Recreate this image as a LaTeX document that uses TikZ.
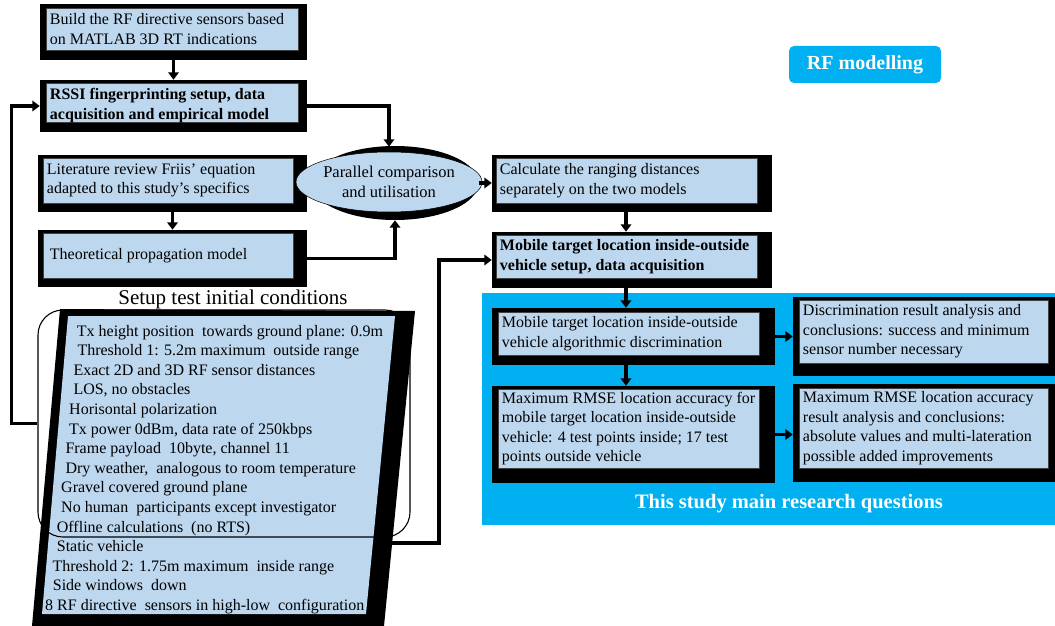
\documentclass[tikz,border=0pt]{standalone}
\usepackage{fontspec}
\setmainfont{Liberation Serif}
\usetikzlibrary{arrows.meta,fit,calc,shapes.geometric}
\definecolor{boxblue}{HTML}{BDD7EE}
\definecolor{skyband}{HTML}{00B0F0}

\tikzset{
  shade/.style={fill=black, inner sep=0pt},
  panel/.style={fill=boxblue, draw=black!75, line width=0.5pt, inner sep=0pt},
  boxtext/.style={align=left, inner xsep=4pt, inner ysep=0pt, anchor=west,
    font=\fontsize{16}{19.5}\selectfont},
  conn/.style={line width=3.3pt, -{Triangle[length=7.5pt,width=10.5pt]}},
  condline/.style={anchor=base west, inner sep=0pt, font=\fontsize{16}{19.6}\selectfont},
}

% black block with an inset light-blue panel and its text
\newcommand{\stepblock}[7][0]{%
  \node[shade, fit={#3 #4}] (#2) {};
  \node[panel, fit={#5 #6}] (#2-in) {};
  \node[boxtext, yshift=#1] (#2-txt) at (#2-in.west) {#7};
}

\begin{document}
\begin{tikzpicture}[x=1pt,y=-1pt]
\useasboundingbox (0,0) rectangle (1055,626);

% research-question band
\fill[skyband] (482,293) rectangle (1055,525);
\node[fill=skyband, rounded corners=5pt, minimum width=152pt, minimum height=37pt,
  inner sep=0pt, text=white, font=\bfseries\fontsize{20}{24}\selectfont] (rfmod) at (865,64.5) {RF modelling};
\node[text=white, anchor=base, inner sep=0pt, font=\bfseries\fontsize{20.5}{24}\selectfont]
  (rq) at (789,508) {This study main research questions};

% process blocks
\stepblock{build}{(40,4)}{(307,60)}{(46,8)}{(298,50)}{Build the RF directive sensors based\\on MATLAB 3D RT indications}
\stepblock[-3pt]{rssi}{(40,80)}{(307,132)}{(46,83)}{(298,122)}{\bfseries RSSI fingerprinting setup, data\\\bfseries acquisition and empirical model}
\stepblock{lit}{(38,155)}{(307,212)}{(43,158)}{(293,203)}{Literature review Friis' equation\\adapted to this study's specifics}
\stepblock{theo}{(38,230)}{(307,287)}{(43,233)}{(293,278)}{\hspace{3pt}Theoretical propagation model}
\stepblock{ranging}{(492,155)}{(772,212)}{(496,158)}{(757,203)}{Calculate the ranging distances\\separately on the two models}
\stepblock{mobset}{(492,232)}{(772,288)}{(496,235)}{(757,278)}{\bfseries Mobile target location inside-outside\\\bfseries vehicle setup, data acquisition}
\stepblock{algo}{(492,308)}{(775,365)}{(498,312)}{(759,355)}{Mobile target location inside-outside\\vehicle algorithmic discrimination}
\stepblock{rmse}{(492,386)}{(775,483)}{(498,389)}{(759,468)}{Maximum RMSE location accuracy for\\mobile target location inside-outside\\vehicle: 4 test points inside; 17 test\\points outside vehicle}
\stepblock{disc}{(793,297)}{(1055,376)}{(799,300)}{(1048,363)}{Discrimination result analysis and\\conclusions: success and minimum\\sensor number necessary}
\stepblock{rmsres}{(793,384)}{(1055,482)}{(799,388)}{(1048,468)}{Maximum RMSE location accuracy\\result analysis and conclusions:\\absolute values and multi-lateration\\possible added improvements}

% comparison ellipse with its heavy shadow
\node[ellipse, fill=black, minimum width=167pt, minimum height=74pt, inner sep=0pt] (parsh) at (395,183) {};
\node[ellipse, fill=boxblue, draw=black, line width=0.5pt, minimum width=152pt, minimum height=60pt,
  inner sep=0pt, align=center, font=\fontsize{16.5}{19.5}\selectfont] (par) at (389,182) {Parallel comparison\\and utilisation};

% connectors
\coordinate (col) at (626,0);
\draw[conn] (build) -- (rssi);
\draw[conn] (lit) -- (theo);
\draw[conn] (rssi.east) -| ($(par.north)+(0,-5)$);
\draw[conn] (theo.east) -| (parsh.south);
\draw[conn] (parsh.east) -- (parsh.east -| ranging.west);
\draw[conn] (ranging.south -| col) -- (mobset.north -| col);
\draw[conn] (mobset.south -| col) -- (algo.north -| col);
\draw[conn] (algo.south -| col) -- (rmse.north -| col);
\draw[conn] (algo.east) -- (algo.east -| disc.west);
\draw[conn] (rmse.east) -- (rmse.east -| rmsres.west);
\coordinate (condexit) at (385,543);
\draw[conn] (condexit) -- (439,543) |- (mobset.west);

% initial-conditions sheet
\fill[black] (60,309) -- (415,311) -- (384,626) -- (32,626) -- cycle;
\fill[boxblue] (68,316) -- (395,316) -- (366,614) -- (42,614) -- cycle;
\foreach \xx/\condtext [count=\i] in {
  76.7/{Tx height position \ towards ground plane: 0.9m},
  77.3/{Threshold 1: 5.2m maximum \ outside range},
  73.3/{Exact 2D and 3D RF sensor distances},
  73.3/{LOS, no obstacles},
  69/{Horisontal polarization},
  69/{Tx power 0dBm, data rate of 250kbps},
  65.3/{Frame payload \ 10byte, channel 11},
  65.3/{Dry weather, \ analogous to room temperature},
  61/{Gravel covered ground plane},
  61/{No human \ participants except investigator},
  56.7/{Offline calculations \ (no RTS)},
  56.7/{Static vehicle},
  52.3/{Threshold 2: 1.75m maximum \ inside range},
  52.7/{Side windows \ down},
  45/{8 RF directive \ sensors in high-low \ configuration}}
  \node[condline] (cond-\i) at (\xx, {336+19.6*(\i-1)}) {\condtext};

\node[draw=black, line width=1.1pt, rounded corners=25pt, minimum width=372pt, minimum height=227pt,
  inner sep=0pt] (setup) at (224,423.5) {};
\node[anchor=base, inner sep=0pt, font=\fontsize{21}{25}\selectfont] (settitle) at (233,304) {Setup test initial conditions};

\draw[conn] (setup.west) -- ++(-26,0) |- (rssi.west);
\end{tikzpicture}
\end{document}
